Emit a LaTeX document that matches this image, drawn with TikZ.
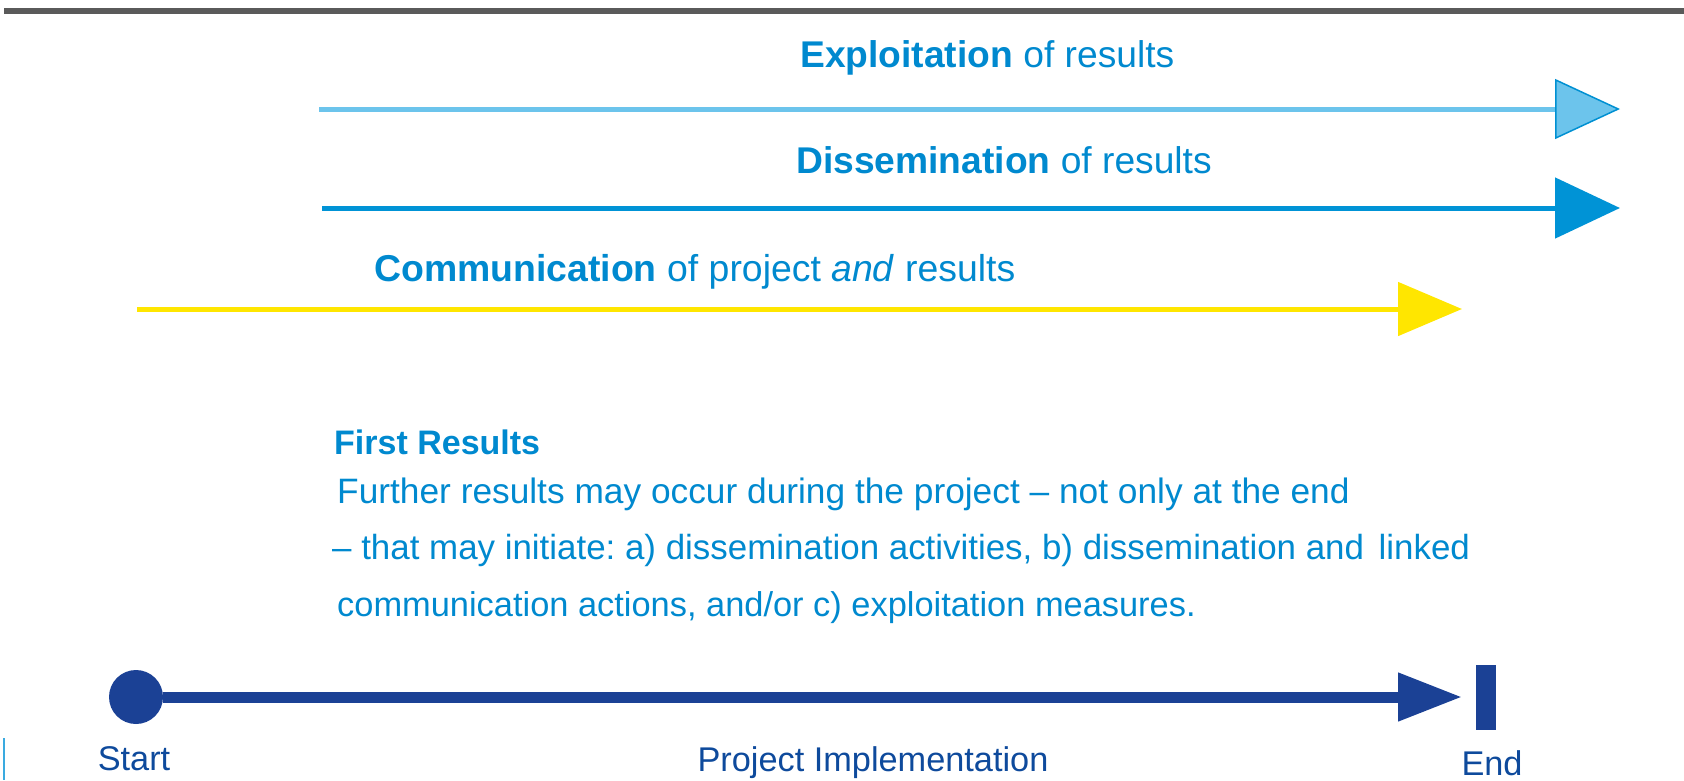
\documentclass[tikz,border=0pt]{standalone}
\usepackage{fontspec}
\setmainfont{Liberation Sans}
\usetikzlibrary{arrows.meta}

\definecolor{rulegray}{HTML}{5A5A5A}
\definecolor{txtblue}{HTML}{0089CF}
\definecolor{exlight}{HTML}{6CC4EC}
\definecolor{exdark}{HTML}{0090D2}
\definecolor{disblue}{HTML}{0093D6}
\definecolor{comyellow}{HTML}{FFE600}
\definecolor{navy}{HTML}{1B4195}
\definecolor{navytxt}{HTML}{0E4A9C}
\definecolor{edgeblue}{HTML}{3AAAE0}

\frenchspacing
\begin{document}
\begin{tikzpicture}[x=1pt,y=-1pt,
  headline/.style={font=\fontsize{37.2}{44}\selectfont, text=txtblue, inner sep=0pt, anchor=base west},
  bodyline/.style={font=\fontsize{35.3}{42}\selectfont, text=txtblue, inner sep=0pt, anchor=base west},
  tiplabel/.style={font=\fontsize{34.3}{40}\selectfont, text=navytxt, inner sep=0pt, anchor=base},
  bigtip/.style={-{Triangle[length=65pt,width=60pt]}},
  midtip/.style={-{Triangle[length=64pt,width=53pt]}},
  flow/.style={line width=5pt}]

\useasboundingbox (0,0) rectangle (1684,780);

% top rule
\fill[rulegray] (4,8) rectangle (1684,14);

% exploitation
\coordinate (ex0) at (319,109);
\coordinate (ex1) at (1620,109);
\draw[flow, exlight, -{Triangle[length=65pt,width=60pt,fill=exlight,color=exdark,line width=1.5pt]}] (ex0) -- (ex1);
\node[headline] (exlbl) at (800,67) {\textbf{Exploitation} of results};

% dissemination
\coordinate (di0) at (322,208);
\coordinate (di1) at (1620,208);
\draw[flow, disblue, bigtip] (di0) -- (di1);
\node[headline] (dilbl) at (796,173) {\textbf{Dissemination} of results};

% communication
\coordinate (co0) at (137,309);
\coordinate (co1) at (1462,309);
\draw[flow, comyellow, midtip] (co0) -- (co1);
\node[headline, font=\fontsize{37.4}{44}\selectfont] (colbl) at (374,281) {\textbf{Communication} of project \textit{and} results};

% first results text
\node[headline, font=\fontsize{34}{40}\selectfont\bfseries] (frhead) at (334,454) {First Results};
\node[bodyline] (fr1) at (337,503) {Further results may occur during the project – not only at the end};
\node[bodyline, font=\fontsize{34.9}{42}\selectfont] (fr2) at (332,559) {– that may initiate: a) dissemination activities, b) dissemination and\hspace{5pt} linked};
\node[bodyline, font=\fontsize{34.4}{42}\selectfont] (fr3) at (337,616) {communication actions, and/or c) exploitation measures.};

% project timeline
\node[circle, fill=navy, minimum size=54pt, inner sep=0pt] (start) at (136,697) {};
\coordinate (tl1) at (1462,697);
\draw[line width=11pt, navy, -{Triangle[length=64pt,width=46pt]}] (start) -- (tl1);
\node[fill=navy, minimum width=20pt, minimum height=65pt, inner sep=0pt] (endbar) at (1486,697.5) {};

\node[tiplabel] (startlbl) at (134,770) {Start};
\node[tiplabel] (implbl) at (873,771) {Project Implementation};
\node[tiplabel] (endlbl) at (1492,775) {End};

% edge mark at lower left
\draw[edgeblue, line width=2pt] (4,738) -- (4,780);

\end{tikzpicture}
\end{document}
